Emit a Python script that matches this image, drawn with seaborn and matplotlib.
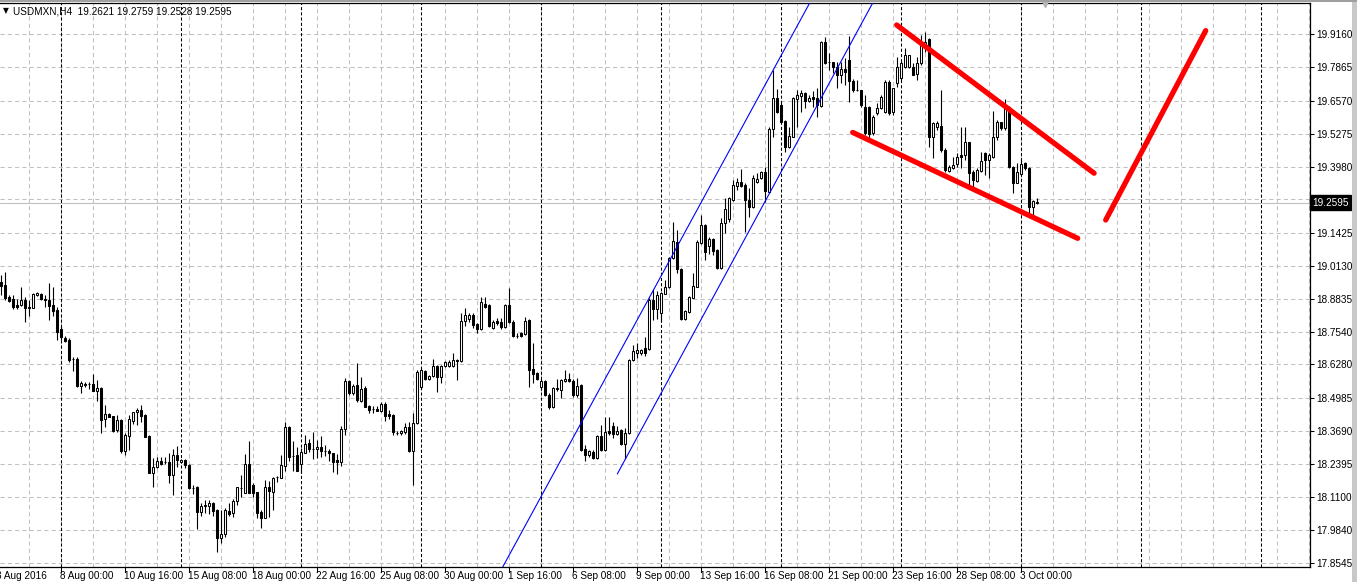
import matplotlib
matplotlib.use("Agg")
import matplotlib.pyplot as plt
import matplotlib.transforms as mtransforms
from matplotlib.patches import Rectangle
import numpy as np
import pandas as pd
import seaborn as sns

# H4 candles, one per bar index (0 = 3 Aug 12:00 ... 259 = 3 Oct 16:00)
opens = [
    18.950, 18.938, 18.890, 18.883, 18.860, 18.859, 18.880, 18.850, 18.849, 18.900,
    18.902, 18.885, 18.880, 18.860, 18.841, 18.766, 18.730, 18.724, 18.648, 18.649,
    18.545, 18.552, 18.551, 18.552, 18.526, 18.536, 18.414, 18.435, 18.427, 18.373,
    18.412, 18.292, 18.350, 18.409, 18.442, 18.450, 18.431, 18.350, 18.206, 18.227,
    18.252, 18.246, 18.249, 18.196, 18.275, 18.246, 18.256, 18.236, 18.147, 18.151,
    18.054, 18.076, 18.077, 18.087, 18.061, 17.950, 17.966, 18.057, 18.048, 18.094,
    18.147, 18.128, 18.240, 18.158, 18.130, 18.052, 18.031, 18.151, 18.132, 18.188,
    18.186, 18.233, 18.385, 18.272, 18.275, 18.239, 18.284, 18.321, 18.297, 18.297,
    18.305, 18.291, 18.291, 18.282, 18.256, 18.249, 18.375, 18.564, 18.516, 18.548,
    18.487, 18.535, 18.466, 18.454, 18.456, 18.448, 18.474, 18.435, 18.431, 18.362,
    18.360, 18.366, 18.385, 18.292, 18.399, 18.541, 18.603, 18.571, 18.583, 18.622,
    18.580, 18.622, 18.622, 18.622, 18.646, 18.643, 18.799, 18.804, 18.821, 18.786,
    18.766, 18.863, 18.860, 18.769, 18.799, 18.795, 18.773, 18.860, 18.795, 18.740,
    18.750, 18.747, 18.802, 18.609, 18.594, 18.539, 18.565, 18.509, 18.463, 18.535,
    18.528, 18.564, 18.571, 18.564, 18.509, 18.548, 18.297, 18.275, 18.288, 18.262,
    18.349, 18.295, 18.370, 18.388, 18.357, 18.373, 18.318, 18.360, 18.646, 18.674,
    18.672, 18.691, 18.687, 18.880, 18.843, 18.828, 18.903, 18.929, 19.042, 19.107,
    18.999, 18.805, 18.834, 18.888, 18.931, 19.101, 19.172, 19.091, 19.117, 19.075,
    19.003, 19.179, 19.194, 19.270, 19.325, 19.339, 19.328, 19.270, 19.241, 19.341,
    19.354, 19.380, 19.302, 19.545, 19.666, 19.640, 19.578, 19.477, 19.516, 19.663,
    19.675, 19.686, 19.657, 19.670, 19.666, 19.637, 19.887, 19.807, 19.807, 19.789,
    19.757, 19.779, 19.816, 19.735, 19.699, 19.699, 19.631, 19.631, 19.530, 19.608,
    19.627, 19.614, 19.731, 19.614, 19.725, 19.744, 19.789, 19.789, 19.789, 19.761,
    19.803, 19.861, 19.896, 19.514, 19.553, 19.558, 19.465, 19.384, 19.393, 19.410,
    19.445, 19.445, 19.495, 19.380, 19.345, 19.384, 19.454, 19.426, 19.438, 19.514,
    19.573, 19.549, 19.631, 19.399, 19.337, 19.371, 19.415, 19.393, 19.243, 19.2621,
]
highs = [
    18.977, 18.990, 18.899, 18.899, 18.883, 18.931, 18.892, 18.880, 18.906, 18.911,
    18.908, 18.899, 18.945, 18.929, 18.853, 18.778, 18.739, 18.730, 18.658, 18.656,
    18.565, 18.558, 18.558, 18.591, 18.568, 18.541, 18.470, 18.438, 18.427, 18.431,
    18.414, 18.360, 18.431, 18.444, 18.457, 18.469, 18.435, 18.353, 18.262, 18.268,
    18.268, 18.268, 18.284, 18.297, 18.310, 18.261, 18.258, 18.239, 18.158, 18.154,
    18.087, 18.100, 18.100, 18.091, 18.064, 18.061, 18.067, 18.087, 18.102, 18.151,
    18.197, 18.279, 18.330, 18.165, 18.132, 18.061, 18.178, 18.174, 18.190, 18.193,
    18.275, 18.405, 18.389, 18.330, 18.307, 18.301, 18.353, 18.336, 18.366, 18.333,
    18.350, 18.314, 18.297, 18.284, 18.278, 18.388, 18.574, 18.568, 18.552, 18.635,
    18.580, 18.544, 18.470, 18.467, 18.466, 18.483, 18.483, 18.450, 18.434, 18.370,
    18.373, 18.401, 18.402, 18.438, 18.607, 18.613, 18.607, 18.587, 18.648, 18.626,
    18.626, 18.642, 18.646, 18.672, 18.648, 18.828, 18.849, 18.828, 18.828, 18.789,
    18.892, 18.892, 18.864, 18.802, 18.808, 18.810, 18.864, 18.925, 18.802, 18.750,
    18.756, 18.814, 18.804, 18.711, 18.600, 18.571, 18.568, 18.516, 18.539, 18.570,
    18.570, 18.607, 18.594, 18.571, 18.574, 18.551, 18.314, 18.295, 18.295, 18.353,
    18.392, 18.422, 18.424, 18.405, 18.388, 18.375, 18.379, 18.648, 18.704, 18.711,
    18.687, 18.734, 18.886, 18.921, 18.916, 18.912, 18.958, 19.048, 19.185, 19.153,
    19.003, 18.841, 18.895, 18.984, 19.114, 19.211, 19.176, 19.126, 19.120, 19.077,
    19.198, 19.276, 19.282, 19.348, 19.354, 19.389, 19.335, 19.315, 19.367, 19.374,
    19.384, 19.399, 19.555, 19.776, 19.701, 19.647, 19.582, 19.555, 19.672, 19.698,
    19.698, 19.692, 19.679, 19.695, 19.705, 19.891, 19.904, 19.842, 19.809, 19.809,
    19.809, 19.823, 19.909, 19.740, 19.738, 19.699, 19.679, 19.636, 19.601, 19.647,
    19.679, 19.738, 19.738, 19.620, 19.828, 19.810, 19.861, 19.835, 19.804, 19.828,
    19.913, 19.926, 19.900, 19.575, 19.578, 19.698, 19.471, 19.406, 19.438, 19.452,
    19.553, 19.555, 19.497, 19.386, 19.393, 19.458, 19.458, 19.452, 19.618, 19.582,
    19.575, 19.662, 19.636, 19.402, 19.413, 19.426, 19.419, 19.399, 19.270, 19.2759,
]
lows = [
    18.899, 18.880, 18.873, 18.846, 18.844, 18.857, 18.795, 18.818, 18.847, 18.895,
    18.880, 18.853, 18.802, 18.818, 18.724, 18.724, 18.717, 18.639, 18.604, 18.541,
    18.518, 18.539, 18.531, 18.526, 18.487, 18.362, 18.383, 18.422, 18.366, 18.366,
    18.284, 18.275, 18.295, 18.396, 18.392, 18.405, 18.344, 18.204, 18.151, 18.223,
    18.237, 18.239, 18.167, 18.119, 18.229, 18.243, 18.223, 18.141, 18.123, 17.985,
    18.037, 18.050, 18.045, 18.037, 17.898, 17.931, 17.957, 18.037, 18.032, 18.080,
    18.112, 18.126, 18.126, 18.110, 18.028, 17.989, 18.028, 18.032, 18.061, 18.171,
    18.184, 18.214, 18.253, 18.214, 18.214, 18.204, 18.282, 18.288, 18.259, 18.262,
    18.266, 18.272, 18.253, 18.208, 18.200, 18.233, 18.353, 18.509, 18.509, 18.483,
    18.481, 18.461, 18.438, 18.440, 18.447, 18.444, 18.409, 18.414, 18.353, 18.353,
    18.353, 18.357, 18.286, 18.158, 18.396, 18.535, 18.568, 18.568, 18.578, 18.522,
    18.555, 18.617, 18.617, 18.617, 18.568, 18.639, 18.778, 18.795, 18.769, 18.750,
    18.763, 18.847, 18.775, 18.765, 18.782, 18.765, 18.769, 18.791, 18.736, 18.730,
    18.736, 18.743, 18.539, 18.555, 18.568, 18.528, 18.505, 18.453, 18.457, 18.526,
    18.496, 18.561, 18.559, 18.502, 18.502, 18.292, 18.253, 18.266, 18.258, 18.258,
    18.292, 18.292, 18.353, 18.340, 18.353, 18.314, 18.258, 18.357, 18.643, 18.652,
    18.665, 18.661, 18.685, 18.802, 18.804, 18.795, 18.903, 18.925, 19.038, 18.984,
    18.802, 18.802, 18.830, 18.886, 18.929, 19.098, 19.036, 19.058, 19.055, 18.999,
    18.999, 19.140, 19.185, 19.267, 19.309, 19.321, 19.146, 19.204, 19.237, 19.335,
    19.350, 19.263, 19.296, 19.514, 19.610, 19.571, 19.458, 19.473, 19.514, 19.555,
    19.614, 19.627, 19.653, 19.631, 19.594, 19.633, 19.800, 19.776, 19.766, 19.705,
    19.725, 19.718, 19.653, 19.692, 19.696, 19.633, 19.523, 19.501, 19.523, 19.601,
    19.623, 19.608, 19.601, 19.601, 19.711, 19.738, 19.783, 19.783, 19.757, 19.738,
    19.796, 19.848, 19.477, 19.432, 19.542, 19.458, 19.380, 19.379, 19.389, 19.399,
    19.393, 19.425, 19.328, 19.321, 19.341, 19.380, 19.367, 19.354, 19.432, 19.504,
    19.542, 19.542, 19.393, 19.296, 19.335, 19.367, 19.386, 19.218, 19.198, 19.2528,
]
closes = [
    18.934, 18.887, 18.877, 18.853, 18.853, 18.880, 18.849, 18.850, 18.903, 18.906,
    18.882, 18.878, 18.857, 18.838, 18.756, 18.734, 18.721, 18.646, 18.648, 18.544,
    18.555, 18.548, 18.551, 18.526, 18.535, 18.412, 18.435, 18.424, 18.370, 18.412,
    18.291, 18.353, 18.414, 18.442, 18.450, 18.428, 18.346, 18.206, 18.227, 18.252,
    18.239, 18.246, 18.196, 18.275, 18.256, 18.256, 18.236, 18.145, 18.147, 18.054,
    18.076, 18.080, 18.087, 18.058, 17.950, 17.967, 18.061, 18.045, 18.097, 18.149,
    18.147, 18.240, 18.128, 18.128, 18.050, 18.031, 18.151, 18.136, 18.184, 18.188,
    18.236, 18.383, 18.268, 18.272, 18.214, 18.286, 18.317, 18.297, 18.297, 18.305,
    18.292, 18.291, 18.284, 18.249, 18.249, 18.375, 18.564, 18.516, 18.545, 18.490,
    18.532, 18.463, 18.450, 18.454, 18.448, 18.474, 18.428, 18.428, 18.364, 18.362,
    18.369, 18.383, 18.292, 18.399, 18.600, 18.607, 18.571, 18.583, 18.622, 18.580,
    18.622, 18.639, 18.639, 18.646, 18.643, 18.799, 18.821, 18.821, 18.782, 18.766,
    18.870, 18.853, 18.779, 18.795, 18.789, 18.773, 18.860, 18.795, 18.740, 18.740,
    18.740, 18.799, 18.607, 18.591, 18.571, 18.564, 18.509, 18.461, 18.535, 18.531,
    18.568, 18.571, 18.564, 18.509, 18.544, 18.295, 18.275, 18.291, 18.262, 18.349,
    18.295, 18.364, 18.360, 18.356, 18.370, 18.318, 18.360, 18.646, 18.681, 18.685,
    18.683, 18.674, 18.880, 18.843, 18.899, 18.906, 18.929, 19.044, 19.110, 18.999,
    18.805, 18.837, 18.892, 18.934, 19.107, 19.172, 19.068, 19.117, 19.072, 19.003,
    19.181, 19.233, 19.276, 19.328, 19.339, 19.325, 19.270, 19.241, 19.354, 19.350,
    19.380, 19.306, 19.545, 19.666, 19.614, 19.575, 19.477, 19.519, 19.666, 19.679,
    19.688, 19.657, 19.666, 19.663, 19.640, 19.887, 19.803, 19.807, 19.789, 19.757,
    19.779, 19.769, 19.735, 19.699, 19.699, 19.640, 19.530, 19.527, 19.594, 19.627,
    19.672, 19.731, 19.610, 19.705, 19.789, 19.803, 19.835, 19.835, 19.757, 19.803,
    19.887, 19.887, 19.514, 19.569, 19.569, 19.465, 19.386, 19.397, 19.406, 19.438,
    19.438, 19.497, 19.374, 19.348, 19.386, 19.423, 19.426, 19.445, 19.516, 19.575,
    19.549, 19.633, 19.399, 19.337, 19.380, 19.410, 19.393, 19.243, 19.266, 19.2595,
]

# time axis labels (every 16 bars, first one is off the left edge)
time_label_bars = [-1, 15, 31, 47, 63, 79, 95, 111, 127, 143, 159, 175, 191, 207, 223, 239, 255]
time_labels = [
    "3 Aug 2016", "8 Aug 00:00", "10 Aug 16:00", "15 Aug 08:00", "18 Aug 00:00",
    "22 Aug 16:00", "25 Aug 08:00", "30 Aug 00:00", "1 Sep 16:00", "6 Sep 08:00",
    "9 Sep 00:00", "13 Sep 16:00", "16 Sep 08:00", "21 Sep 00:00", "23 Sep 16:00",
    "28 Sep 08:00", "3 Oct 00:00",
]
week_separator_bars = [15, 45, 75, 105, 135, 165, 195, 225, 255, 285, 315]

price_ticks = [17.8545, 17.9840, 18.1100, 18.2395, 18.3690, 18.4985, 18.6280, 18.7540,
               18.8835, 19.0130, 19.1425, 19.2720, 19.3980, 19.5275, 19.6570, 19.7865, 19.9160]
# the 19.2720 label sits under the last-price box
price_labels = ["17.8545", "17.9840", "18.1100", "18.2395", "18.3690", "18.4985", "18.6280",
                "18.7540", "18.8835", "19.0130", "19.1425", "", "19.3980", "19.5275",
                "19.6570", "19.7865", "19.9160"]

symbol = "USDMXN,H4"
last_bar = {"open": 19.2621, "high": 19.2759, "low": 19.2528, "close": 19.2595}

# drawn objects: (bar, price) end points
channel_upper_bars = [125.35, 202.1]
channel_upper_prices = [17.838, 20.038]
channel_lower_bars = [154.0, 217.85]
channel_lower_prices = [18.201, 20.038]
wedge_upper_bars = [223.85, 273.2]
wedge_upper_prices = [19.952, 19.374]
wedge_lower_bars = [212.85, 269.1]
wedge_lower_prices = [19.533, 19.120]
target_bars = [276.1, 301.1]
target_prices = [19.1915, 19.930]

W, H = 1357, 582
X_MIN, X_MAX = -0.325, 327.175
Y_MIN, Y_MAX = 17.8382, 20.0378
FONT = ["Liberation Sans", "DejaVu Sans"]


def draw_candles(ax, df):
    ax.vlines(df["bar"], df["low"], df["high"], color="black", linewidth=0.8, zorder=3)
    body_low = df[["open", "close"]].min(axis=1)
    body_h = (df["close"] - df["open"]).abs().clip(lower=0.0006)
    colors = np.where(df["close"] > df["open"], "white", "black")
    ax.bar(df["bar"], body_h, bottom=body_low, width=0.58, color=colors,
           edgecolor="black", linewidth=0.75, zorder=4)


def draw_line(ax, xs, ys, color, lw):
    line_df = pd.DataFrame({"x": xs, "y": ys})
    sns.lineplot(data=line_df, x="x", y="y", ax=ax, color=color, linewidth=lw,
                 estimator=None, sort=False, solid_capstyle="round", zorder=6)


if __name__ == '__main__':
    sns.set_style("white")
    plt.rcParams['font.family'] = FONT

    df = pd.DataFrame({"open": opens, "high": highs, "low": lows, "close": closes})
    df["bar"] = np.arange(len(df))

    fig = plt.figure(figsize=(W / 100, H / 100), dpi=100)
    fig.patch.set_facecolor("white")
    ax = fig.add_axes([0, 1 - 567 / H, 1310 / W, 564 / H])
    ax.set_facecolor("white")

    # grid
    for p in price_ticks:
        ax.axhline(p, color="#c0c0c0", linewidth=0.75, linestyle=(0, (4, 3)), zorder=1)
    for b in range(7, 328, 8):
        ax.axvline(b, color="#c0c0c0", linewidth=0.75, linestyle=(0, (4, 3)), zorder=1)
    for b in week_separator_bars:
        ax.axvline(b, color="black", linewidth=0.75, linestyle=(0, (3, 2)), zorder=2)

    # bid line
    ax.axhline(last_bar["close"], color="#c0c0c0", linewidth=0.8, zorder=2)

    draw_candles(ax, df)

    draw_line(ax, channel_upper_bars, channel_upper_prices, "#0000ff", 0.8)
    draw_line(ax, channel_lower_bars, channel_lower_prices, "#0000ff", 0.8)
    draw_line(ax, wedge_upper_bars, wedge_upper_prices, "#ff0000", 3.8)
    draw_line(ax, wedge_lower_bars, wedge_lower_prices, "#ff0000", 3.8)
    draw_line(ax, target_bars, target_prices, "#ff0000", 3.8)

    ax.set_xlim(X_MIN, X_MAX)
    ax.set_ylim(Y_MIN, Y_MAX)
    ax.set_xlabel("")
    ax.set_ylabel("")

    for side in ["top", "right", "bottom"]:
        ax.spines[side].set_visible(True)
        ax.spines[side].set_color("black")
        ax.spines[side].set_linewidth(0.9)
    ax.spines["left"].set_visible(False)

    # price scale
    ax.yaxis.tick_right()
    ax.set_yticks(price_ticks)
    ax.set_yticklabels(price_labels, fontsize=7.2, color="black")
    ax.tick_params(axis="y", direction="out", length=3, width=0.75, pad=1.5, color="black")

    # time scale
    ax.set_xticks([])
    trans = mtransforms.blended_transform_factory(ax.transData, ax.transAxes)
    for b, lab in zip(time_label_bars, time_labels):
        ax.plot([b, b], [0, -5 / 564], color="black", linewidth=0.75, transform=trans,
                clip_on=False, zorder=7)
        ax.text(b - 0.3, -9 / 564, lab, transform=trans, ha="left", va="center",
                fontsize=7.2, color="black", clip_on=False)

    # header
    ax.text(3 / 1310, 1 - 8 / 564, "\u25bc", transform=ax.transAxes, ha="left", va="center",
            fontsize=5.5, color="black", family=["DejaVu Sans"])
    header = "{}  {:.4f} {:.4f} {:.4f} {:.4f}".format(
        symbol, last_bar["open"], last_bar["high"], last_bar["low"], last_bar["close"])
    ax.text(13 / 1310, 1 - 8 / 564, header, transform=ax.transAxes, ha="left", va="center",
            fontsize=7.2, color="black")

    # chart shift marker
    ax.plot([260.9], [Y_MAX], marker="v", markersize=6, color="#b4b4b4",
            markeredgecolor="#b4b4b4", clip_on=False, zorder=8)

    # last price box on the price scale
    ytr = mtransforms.blended_transform_factory(ax.transAxes, ax.transData)
    ax.text(1312 / 1310, last_bar["close"], "{:.4f}".format(last_bar["close"]),
            transform=ytr, ha="left", va="center", fontsize=7.2, color="white",
            clip_on=False, zorder=9,
            bbox=dict(boxstyle="square,pad=0.25", facecolor="black", edgecolor="black"))

    # window frame bits
    fig.patches.append(Rectangle((1352 / W, 0), 5 / W, 1, transform=fig.transFigure,
                                 facecolor="#c8c8c8", edgecolor="none"))
    fig.patches.append(Rectangle((0, 1 - 1.5 / H), 1, 1.5 / H, transform=fig.transFigure,
                                 facecolor="#a0a0a0", edgecolor="none"))

    fig.savefig("out.png", dpi=100)
